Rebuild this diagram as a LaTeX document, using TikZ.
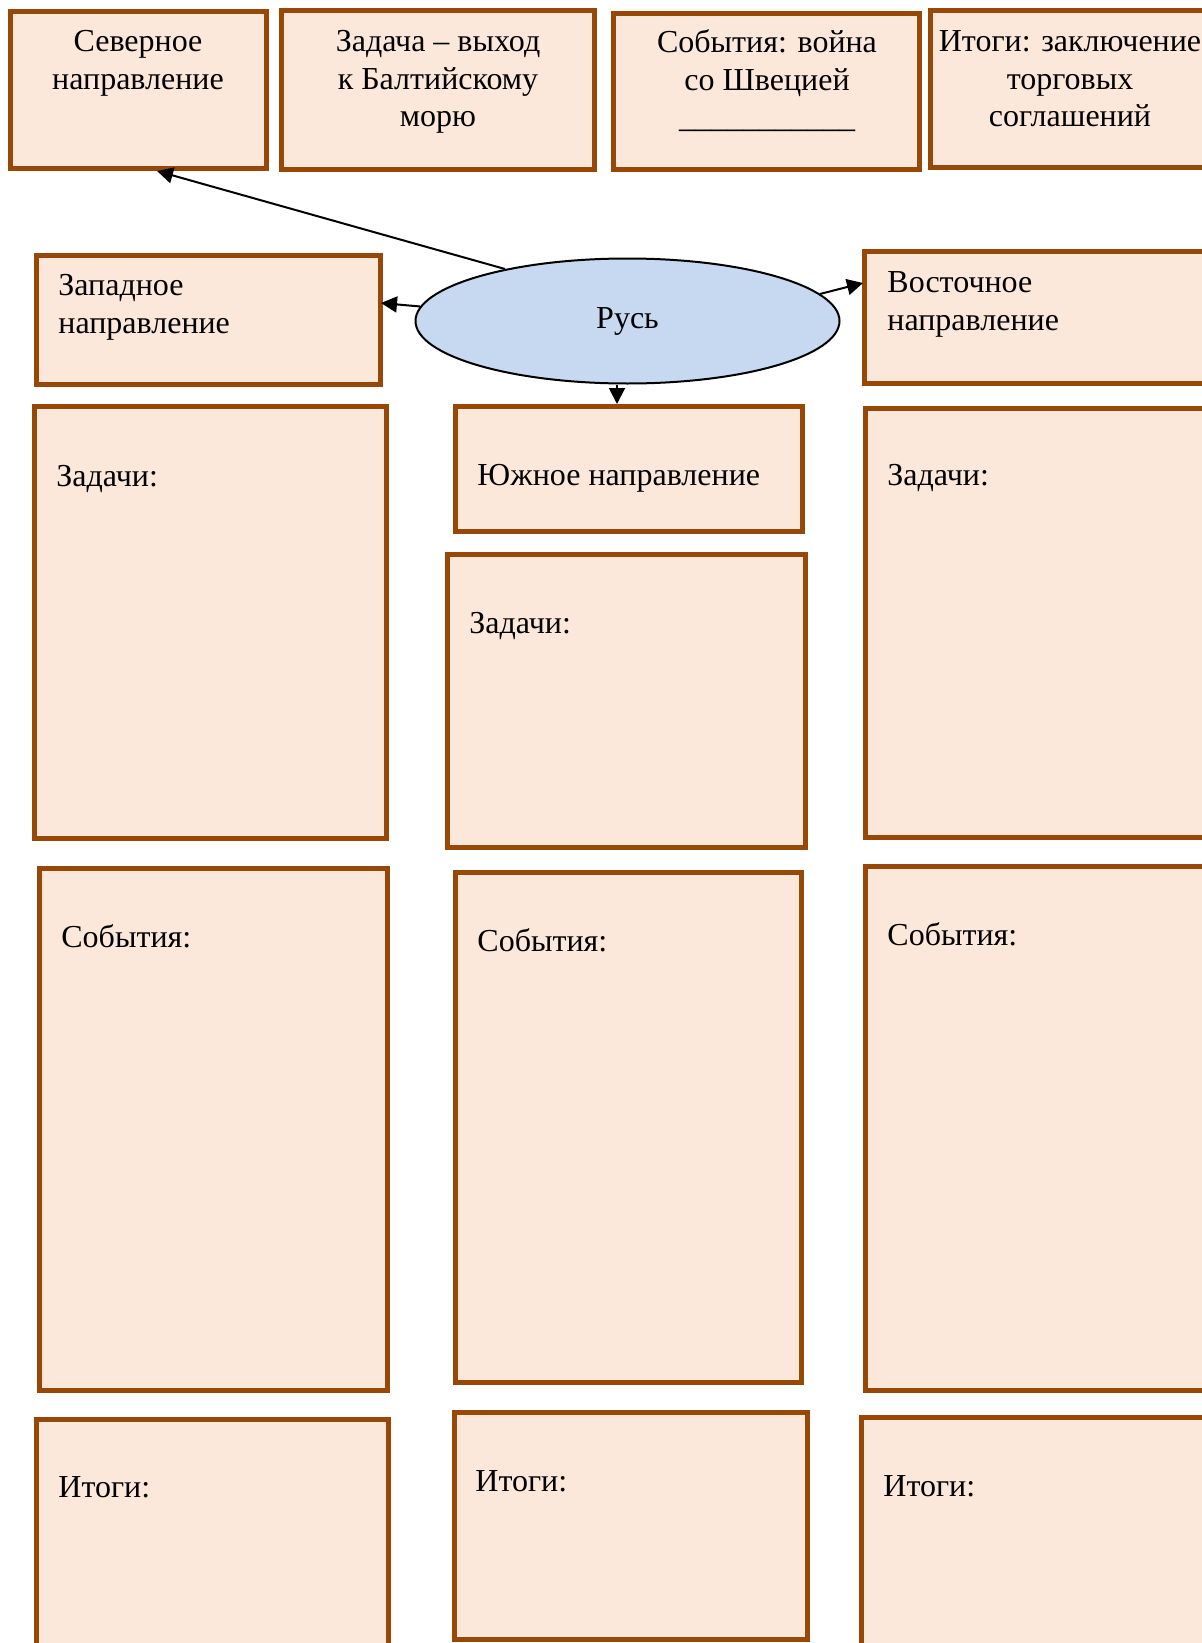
\documentclass[tikz,border=0pt]{standalone}
\usepackage{fontspec}
\setmainfont{Liberation Serif}
\usetikzlibrary{fit,arrows.meta,shapes.geometric}
\definecolor{brd}{HTML}{974806}
\definecolor{fillc}{HTML}{FCE8DA}
\definecolor{ellc}{HTML}{C6D9F1}
\begin{document}
\begin{tikzpicture}[x=0.5pt,y=-0.5pt,
  box/.style={draw=brd, line width=2.5pt, fill=fillc, inner sep=0pt, outer sep=0pt, rectangle},
  lbl/.style={inner sep=0pt, anchor=base west, text width=170pt, align=flush left, font=\fontsize{16}{19}\selectfont},
  clbl/.style={inner sep=0pt, anchor=base, text width=150pt, align=flush center, font=\fontsize{16}{18.75}\selectfont},
  conn/.style={-{Triangle[length=8pt,width=8pt]}, line width=1pt, black}]
\useasboundingbox (0,0) rectangle (1202,1643);
\clip (0,0) rectangle (1202,1643);
% top row
\node[box, fit={(10.5,11.5) (266.5,168.5)}] (north) {};
\node[box, fit={(281.5,10.5) (594.5,169.5)}] (taskN) {};
\node[box, fit={(613.5,13.5) (919.5,169.5)}] (eventsN) {};
\node[box, fit={(930.5,10.5) (1212.5,167.5)}] (resultsN) {};
\node[clbl] (tNorth) at (138,52) {Северное\\направление};
\node[clbl] (tTaskN) at (438,52) {Задача – выход\\к Балтийскому\\морю};
\node[clbl] (tEventsN) at (767,53) {События: война\\со Швецией\\\_\_\_\_\_\_\_\_\_\_\_};
\node[clbl] (tResultsN) at (1070,52) {Итоги: заключение\\торговых\\соглашений};
% second row
\node[box, fit={(36.5,255.5) (380.5,384.5)}] (west) {};
\node[box, fit={(864.5,251.5) (1215,383.5)}] (east) {};
\node[lbl] (tWest) at (58,295) {Западное\\направление};
\node[lbl] (tEast) at (887,292) {Восточное\\направление};
\node[draw=black, line width=1pt, fill=ellc, ellipse, minimum width=212pt, minimum height=62.5pt, inner sep=0pt,
      font=\fontsize{16}{19}\selectfont] (rus) at (627.5,321) {Русь};
\node[box, fit={(455.5,406.5) (802.5,531.5)}] (south) {};
\node[lbl] (tSouth) at (477,485) {Южное направление};
% tasks
\node[box, fit={(34.5,406.5) (386.5,838.5)}] (wTasks) {};
\node[box, fit={(447.5,554.5) (805.5,847.5)}] (mTasks) {};
\node[box, fit={(865.5,408.5) (1215,837.5)}] (eTasks) {};
\node[lbl] (tWTasks) at (56,486) {Задачи:};
\node[lbl] (tMTasks) at (469,633) {Задачи:};
\node[lbl] (tETasks) at (887,485) {Задачи:};
% events
\node[box, fit={(39.5,868.5) (387.5,1390.5)}] (wEvents) {};
\node[box, fit={(455.5,872.5) (801.5,1382.5)}] (mEvents) {};
\node[box, fit={(865.5,866.5) (1215,1390.5)}] (eEvents) {};
\node[lbl] (tWEvents) at (61,947) {События:};
\node[lbl] (tMEvents) at (477,951) {События:};
\node[lbl] (tEEvents) at (887,945) {События:};
% results
\node[box, fit={(36.5,1419.5) (388.5,1665)}] (wResults) {};
\node[box, fit={(454.5,1412.5) (807.5,1639.5)}] (mResults) {};
\node[box, fit={(861.5,1417.5) (1215,1665)}] (eResults) {};
\node[lbl] (tWResults) at (58,1497) {Итоги:};
\node[lbl] (tMResults) at (475,1491) {Итоги:};
\node[lbl] (tEResults) at (883,1496) {Итоги:};
% connectors
\coordinate (nTip) at (157,171);
\coordinate (wTip) at (381,303);
\coordinate (eTip) at (863,283);
\coordinate (sTip) at (617,404);
\draw[conn] (rus.157) -- (nTip);
\draw[conn] (rus.176) -- (wTip);
\draw[conn] (rus.8) -- (eTip);
\draw[conn] (rus.south -| sTip) -- (sTip);
\end{tikzpicture}
\end{document}
